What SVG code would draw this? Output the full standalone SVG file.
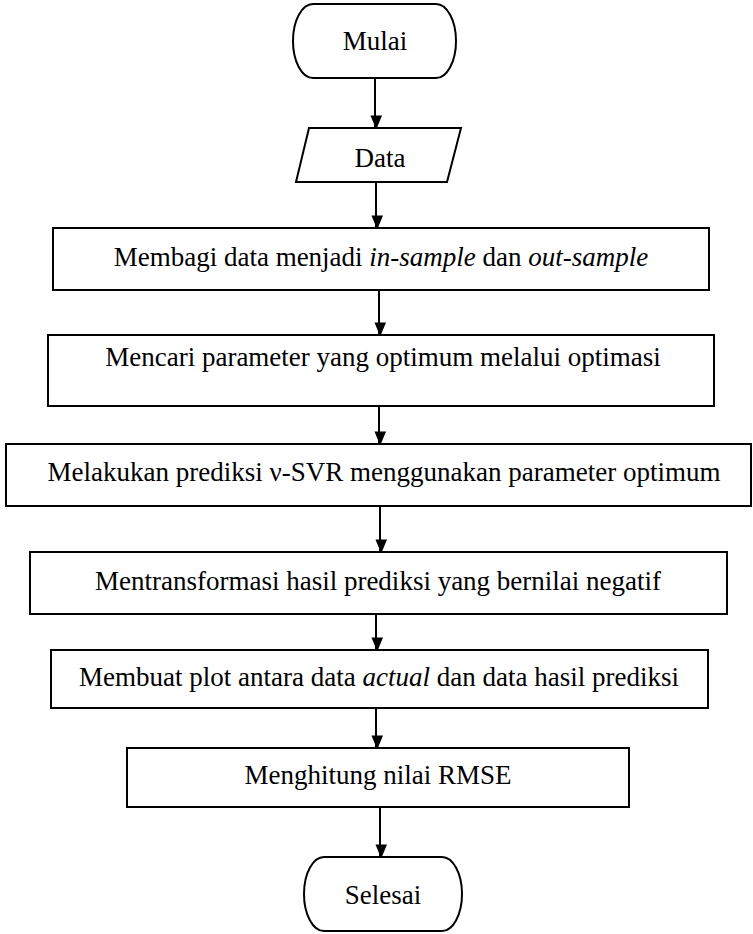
<svg xmlns="http://www.w3.org/2000/svg" width="753" height="934" viewBox="0 0 753 934">
<defs>
<style>
.s{fill:#fff;stroke:#000;stroke-width:2}
.t{font-family:"Liberation Serif","Times New Roman",serif;font-size:27px;fill:#000;text-anchor:middle}
.i{font-style:italic}
.c{stroke:#000;stroke-width:2;fill:none;marker-end:url(#a)}
</style>
<marker id="a" markerUnits="userSpaceOnUse" markerWidth="14" markerHeight="17" refX="14" refY="8.5" orient="auto" viewBox="0 0 17 14">
<path d="M0,0 L17,7 L0,14 Z" fill="#000"/>
</marker>
</defs>
<rect width="753" height="934" fill="#fff"/>
<g id="connectors">
<line class="c" x1="375" y1="78" x2="375" y2="127"/>
<line class="c" x1="376" y1="182" x2="376" y2="227"/>
<line class="c" x1="379" y1="290" x2="379" y2="334"/>
<line class="c" x1="379" y1="406" x2="379" y2="443"/>
<line class="c" x1="380" y1="506" x2="380" y2="551"/>
<line class="c" x1="376" y1="614" x2="376" y2="649"/>
<line class="c" x1="376" y1="708" x2="376" y2="747"/>
<line class="c" x1="380" y1="807" x2="380" y2="856"/>
</g>
<g id="mulai">
<rect class="s" x="293" y="4" width="163" height="74" rx="20" ry="37"/>
<text class="t" x="375" y="50">Mulai</text>
</g>
<g id="data">
<polygon class="s" points="309,128 461,128 447,182 296,182"/>
<text class="t" x="380" y="167">Data</text>
</g>
<g id="membagi">
<rect class="s" x="53" y="228" width="656" height="62"/>
<text class="t" x="381" y="266">Membagi data menjadi <tspan class="i">in-sample</tspan> dan <tspan class="i">out-sample</tspan></text>
</g>
<g id="mencari">
<rect class="s" x="48" y="335" width="666" height="71"/>
<text class="t" x="383" y="366">Mencari parameter yang optimum melalui optimasi</text>
</g>
<g id="melakukan">
<rect class="s" x="6" y="444" width="745" height="62"/>
<text class="t" x="384" y="481">Melakukan prediksi ν-SVR menggunakan parameter optimum</text>
</g>
<g id="mentransformasi">
<rect class="s" x="30" y="552" width="697" height="62"/>
<text class="t" x="378" y="590">Mentransformasi hasil prediksi yang bernilai negatif</text>
</g>
<g id="membuat">
<rect class="s" x="51" y="650" width="657" height="58"/>
<text class="t" x="379" y="686">Membuat plot antara data <tspan class="i">actual</tspan> dan data hasil prediksi</text>
</g>
<g id="menghitung">
<rect class="s" x="127" y="748" width="502" height="59"/>
<text class="t" x="378" y="784">Menghitung nilai RMSE</text>
</g>
<g id="selesai">
<rect class="s" x="304" y="857" width="158" height="74" rx="20" ry="37"/>
<text class="t" x="383" y="904">Selesai</text>
</g>
</svg>
